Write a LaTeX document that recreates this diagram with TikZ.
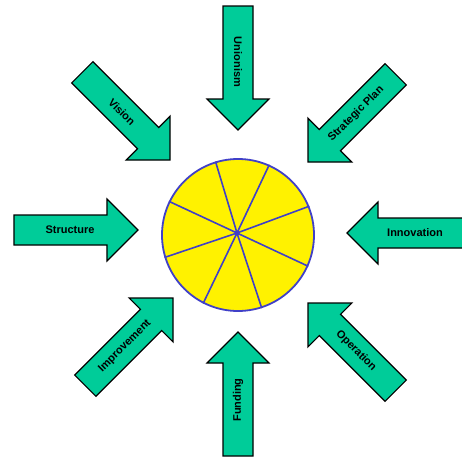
\documentclass[tikz,border=0pt]{standalone}
\usepackage{fontspec}
\newfontfamily\labfont{Liberation Sans}
\definecolor{arrgreen}{RGB}{0,204,153}
\definecolor{wheelblue}{RGB}{64,64,200}
\tikzset{
  arrowbody/.style={draw=black, line width=1.2pt, fill=arrgreen, line join=miter},
  arrowlabel/.style={font=\labfont\bfseries\fontsize{11}{11}\selectfont, text=black, inner sep=0pt},
  wheel/.style={circle, draw=wheelblue, line width=1.8pt, fill=yellow, minimum size=152pt, inner sep=0pt},
  spoke/.style={draw=wheelblue, line width=1.6pt}
}
% #1 name, #2 tip, #3 direction, #4 text rotation, #5 text
\newcommand\bigarr[5]{%
  \begin{scope}[shift={#2}, rotate=#3]
    \draw[arrowbody] (0,0) -- (-31,31) -- (-31,15) -- (-124,15) -- (-124,-15) -- (-31,-15) -- (-31,-31) -- cycle;
  \end{scope}
  \path #2 ++(#3:-68) node[arrowlabel, rotate=#4] (#1) {#5};
}
\begin{document}
\begin{tikzpicture}[x=1pt,y=1pt]
  \useasboundingbox (-237,-226) rectangle (225,233);
  \clip (-237,-226) rectangle (225,233);
  \node[wheel] (wheel) at (1,-2) {};
  \coordinate (hub) at (0,0);
  \foreach \a in {107,66,154,22,197,336,243,288}
    \draw[spoke] (hub) -- (wheel.\a);
  \fill[wheelblue] (hub) circle (2.5);
  \bigarr{unionism}{(1,103)}{-90}{-90}{Unionism}
  \bigarr{vision}{(-67,73)}{-45}{-45}{Vision}
  \bigarr{strategic}{(71,71)}{225}{45}{Strategic Plan}
  \bigarr{structure}{(-99,3)}{0}{0}{Structure}
  \bigarr{innovation}{(110,0)}{180}{0}{Innovation}
  \bigarr{improvement}{(-64,-65)}{45}{45}{Improvement}
  \bigarr{operation}{(71,-70)}{135}{-45}{Operation}
  \bigarr{funding}{(1,-99)}{90}{90}{Funding}
\end{tikzpicture}
\end{document}
